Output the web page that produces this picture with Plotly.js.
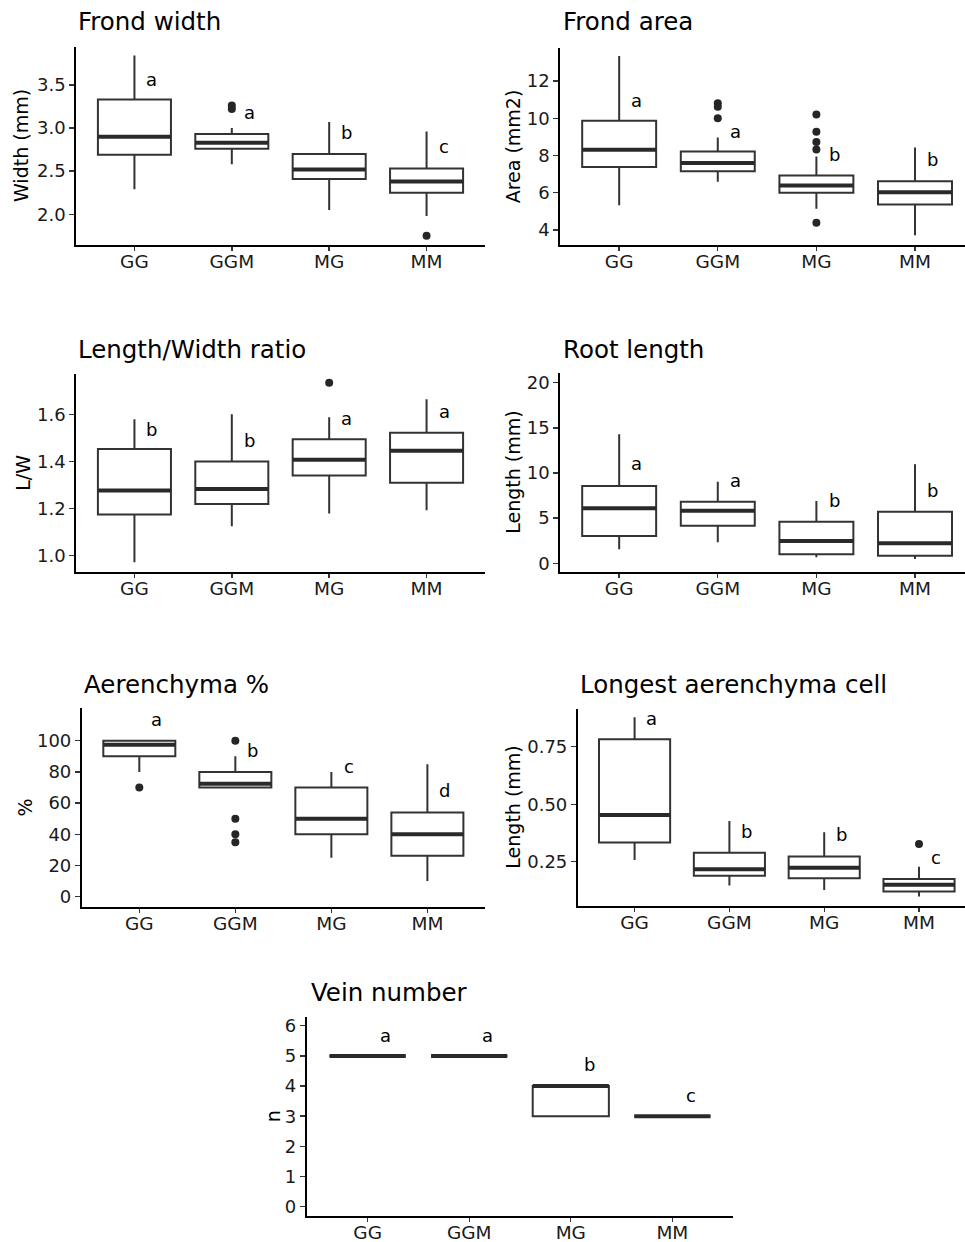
<!DOCTYPE html>
<html>
<head>
<meta charset="utf-8">
<script src="https://cdn.plot.ly/plotly-3.0.1.min.js"></script>
<style>html,body{margin:0;padding:0;background:#fff;}#chart{width:965px;height:1242px;}</style>
</head>
<body>
<div id="chart"></div>
<script>
// ---------- data ----------
const categories = ['GG', 'GGM', 'MG', 'MM'];

// Frond width (mm)
const fwLower = [2.29, 2.58, 2.05, 1.98];
const fwQ1 = [2.69, 2.76, 2.41, 2.25];
const fwMedian = [2.90, 2.83, 2.52, 2.38];
const fwQ3 = [3.33, 2.93, 2.70, 2.53];
const fwUpper = [3.84, 3.00, 3.07, 2.96];
const fwOutCat = ['GGM', 'GGM', 'MM'];
const fwOutVal = [3.26, 3.22, 1.75];
const fwLetters = ['a', 'a', 'b', 'c'];
const fwLetterY = [3.56, 3.18, 2.95, 2.79];

// Frond area (mm2)
const faLower = [5.33, 6.59, 5.14, 3.72];
const faQ1 = [7.38, 7.15, 6.00, 5.37];
const faMedian = [8.31, 7.60, 6.39, 6.03];
const faQ3 = [9.86, 8.22, 6.93, 6.62];
const faUpper = [13.34, 8.96, 7.95, 8.43];
const faOutCat = ['GGM', 'GGM', 'GGM', 'MG', 'MG', 'MG', 'MG', 'MG'];
const faOutVal = [10.80, 10.62, 10.00, 10.20, 9.27, 8.73, 8.32, 4.39];
const faLetters = ['a', 'a', 'b', 'b'];
const faLetterY = [10.98, 9.27, 8.04, 7.80];

// Length/Width ratio
const lwLower = [0.972, 1.125, 1.179, 1.193];
const lwQ1 = [1.175, 1.219, 1.340, 1.310];
const lwMedian = [1.277, 1.283, 1.407, 1.445];
const lwQ3 = [1.453, 1.400, 1.494, 1.522];
const lwUpper = [1.579, 1.600, 1.587, 1.664];
const lwOutCat = ['MG'];
const lwOutVal = [1.734];
const lwLetters = ['b', 'b', 'a', 'a'];
const lwLetterY = [1.536, 1.490, 1.583, 1.614];

// Root length (mm)
const rlLower = [1.55, 2.33, 0.66, 0.48];
const rlQ1 = [3.02, 4.16, 1.00, 0.84];
const rlMedian = [6.09, 5.83, 2.47, 2.21];
const rlQ3 = [8.56, 6.82, 4.61, 5.71];
const rlUpper = [14.29, 9.04, 6.90, 10.96];
const rlOutCat = [];
const rlOutVal = [];
const rlLetters = ['a', 'a', 'b', 'b'];
const rlLetterY = [11.07, 9.15, 7.00, 8.10];

// Aerenchyma %
const aeLower = [80, 70, 25, 10];
const aeQ1 = [90, 70, 40, 26.3];
const aeMedian = [97.5, 72.5, 50, 40];
const aeQ3 = [100, 80, 70, 54];
const aeUpper = [100, 90, 80, 85];
const aeOutCat = ['GG', 'GGM', 'GGM', 'GGM', 'GGM'];
const aeOutVal = [70, 100, 50, 40, 35];
const aeLetters = ['a', 'b', 'c', 'd'];
const aeLetterY = [113.7, 94, 83.8, 67.8];

// Longest aerenchyma cell (mm)
const lcLower = [0.257, 0.146, 0.127, 0.098];
const lcQ1 = [0.333, 0.189, 0.178, 0.120];
const lcMedian = [0.453, 0.217, 0.224, 0.149];
const lcQ3 = [0.783, 0.289, 0.272, 0.175];
const lcUpper = [0.878, 0.427, 0.378, 0.228];
const lcOutCat = ['MM'];
const lcOutVal = [0.327];
const lcLetters = ['a', 'b', 'b', 'c'];
const lcLetterY = [0.871, 0.380, 0.366, 0.269];

// Vein number (n)
const vnLower = [5, 5, 3, 3];
const vnQ1 = [5, 5, 3, 3];
const vnMedian = [5, 5, 4, 3];
const vnQ3 = [5, 5, 4, 3];
const vnUpper = [5, 5, 4, 3];
const vnOutCat = [];
const vnOutVal = [];
const vnLetters = ['a', 'a', 'b', 'c'];
const vnLetterY = [5.67, 5.67, 4.70, 3.70];

// ---------- layout helpers ----------
const W = 965, H = 1242;
const FONT = 'DejaVu Sans, Liberation Sans, Arial, sans-serif';
const BOXCOL = '#333333';
const BOXW = 0.75;
const fx = p => p / W;
const fy = p => 1 - p / H;

const panels = [
  {title: 'Frond width', ytitle: 'Width (mm)', lo: fwLower, q1: fwQ1, med: fwMedian, q3: fwQ3, hi: fwUpper,
   oc: fwOutCat, ov: fwOutVal, let: fwLetters, ly: fwLetterY,
   px: [76, 485], py: [47, 245], xr: [-0.6, 3.6], yr: [1.643, 3.94], tv: [2.0, 2.5, 3.0, 3.5], fmt: '.1f',
   tpos: [76, 22], ytx: 21},
  {title: 'Frond area', ytitle: 'Area (mm2)', lo: faLower, q1: faQ1, med: faMedian, q3: faQ3, hi: faUpper,
   oc: faOutCat, ov: faOutVal, let: faLetters, ly: faLetterY,
   px: [560, 965], py: [47.7, 245], xr: [-0.6, 3.507], yr: [3.19, 13.79], tv: [4, 6, 8, 10, 12], fmt: 'd',
   tpos: [561, 22], ytx: 513},
  {title: 'Length/Width ratio', ytitle: 'L/W', lo: lwLower, q1: lwQ1, med: lwMedian, q3: lwQ3, hi: lwUpper,
   oc: lwOutCat, ov: lwOutVal, let: lwLetters, ly: lwLetterY,
   px: [76, 485], py: [374, 571.7], xr: [-0.6, 3.6], yr: [0.932, 1.771], tv: [1.0, 1.2, 1.4, 1.6], fmt: '.1f',
   tpos: [76, 349], ytx: 23},
  {title: 'Root length', ytitle: 'Length (mm)', lo: rlLower, q1: rlQ1, med: rlMedian, q3: rlQ3, hi: rlUpper,
   oc: rlOutCat, ov: rlOutVal, let: rlLetters, ly: rlLetterY,
   px: [560, 965], py: [373.3, 572.3], xr: [-0.6, 3.507], yr: [-1.0, 21.04], tv: [0, 5, 10, 15, 20], fmt: 'd',
   tpos: [561, 349], ytx: 513},
  {title: 'Aerenchyma %', ytitle: '%', lo: aeLower, q1: aeQ1, med: aeMedian, q3: aeQ3, hi: aeUpper,
   oc: aeOutCat, ov: aeOutVal, let: aeLetters, ly: aeLetterY,
   px: [81.7, 485], py: [708.3, 906.7], xr: [-0.6, 3.6], yr: [-6.4, 120.8], tv: [0, 20, 40, 60, 80, 100], fmt: 'd',
   tpos: [82, 684], ytx: 24},
  {title: 'Longest aerenchyma cell', ytitle: 'Length (mm)', lo: lcLower, q1: lcQ1, med: lcMedian, q3: lcQ3, hi: lcUpper,
   oc: lcOutCat, ov: lcOutVal, let: lcLetters, ly: lcLetterY,
   px: [577.7, 965], py: [709.3, 906], xr: [-0.6, 3.485], yr: [0.057, 0.913], tv: [0.25, 0.5, 0.75], fmt: '.2f',
   tpos: [578, 684], ytx: 513},
  {title: 'Vein number', ytitle: 'n', lo: vnLower, q1: vnQ1, med: vnMedian, q3: vnQ3, hi: vnUpper,
   oc: vnOutCat, ov: vnOutVal, let: vnLetters, ly: vnLetterY,
   px: [306.7, 733.3], py: [1016.7, 1215.7], xr: [-0.6, 3.6], yr: [-0.3, 6.3], tv: [0, 1, 2, 3, 4, 5, 6], fmt: 'd',
   tpos: [309, 992], ytx: 273}
];

const traces = [];
const layout = {
  width: W, height: H,
  margin: {l: 0, r: 0, t: 0, b: 0},
  paper_bgcolor: '#ffffff', plot_bgcolor: '#ffffff',
  showlegend: false,
  font: {family: FONT, color: '#1a1a1a'},
  annotations: []
};

const pos = categories.map((c, i) => i);
const catIndex = c => categories.indexOf(c);

panels.forEach((p, k) => {
  const n = k + 1;
  const xa = 'x' + (n === 1 ? '' : n), ya = 'y' + (n === 1 ? '' : n);
  const xKey = 'xaxis' + (n === 1 ? '' : n), yKey = 'yaxis' + (n === 1 ? '' : n);

  traces.push({
    type: 'box', xaxis: xa, yaxis: ya,
    x: pos, q1: p.q1, median: p.med, q3: p.q3, lowerfence: p.lo, upperfence: p.hi,
    width: BOXW, whiskerwidth: 0, boxpoints: false,
    fillcolor: '#ffffff', line: {color: BOXCOL, width: 2},
    hoverinfo: 'skip'
  });
  // thick median segments
  const mx = [], my = [];
  p.med.forEach((m, i) => { mx.push(i - BOXW / 2, i + BOXW / 2, null); my.push(m, m, null); });
  traces.push({type: 'scatter', mode: 'lines', xaxis: xa, yaxis: ya, x: mx, y: my,
    line: {color: '#2a2a2a', width: 4}, hoverinfo: 'skip'});
  if (p.ov.length) {
    traces.push({type: 'scatter', mode: 'markers', xaxis: xa, yaxis: ya,
      x: p.oc.map(catIndex), y: p.ov,
      marker: {color: '#262626', size: 8}, hoverinfo: 'skip'});
  }

  layout[xKey] = {
    domain: [fx(p.px[0]), fx(p.px[1])], anchor: ya, range: p.xr, fixedrange: true,
    tickmode: 'array', tickvals: pos, ticktext: categories,
    showline: true, linecolor: '#000', linewidth: 1.8, mirror: false,
    ticks: 'outside', ticklen: 4, tickwidth: 1.4, tickcolor: '#333',
    ticklabelstandoff: -5,
    showgrid: false, zeroline: false,
    tickfont: {family: FONT, size: 18.5, color: '#1a1a1a'}
  };
  layout[yKey] = {
    domain: [fy(p.py[1]), fy(p.py[0])], anchor: xa, range: p.yr, fixedrange: true,
    tickmode: 'array', tickvals: p.tv, tickformat: p.fmt,
    showline: true, linecolor: '#000', linewidth: 1.8,
    ticks: 'outside', ticklen: 5, tickwidth: 1.4, tickcolor: '#333',
    showgrid: false, zeroline: false,
    tickfont: {family: FONT, size: 18, color: '#1a1a1a'}
  };

  // plot title
  layout.annotations.push({xref: 'paper', yref: 'paper', x: fx(p.tpos[0]), y: fy(p.tpos[1]),
    xanchor: 'left', yanchor: 'middle', text: p.title, showarrow: false,
    font: {family: FONT, size: 24.5, color: '#000'}});
  // y axis title
  layout.annotations.push({xref: 'paper', yref: 'paper', x: fx(p.ytx), y: fy((p.py[0] + p.py[1]) / 2),
    xanchor: 'center', yanchor: 'middle', textangle: -90, text: p.ytitle, showarrow: false,
    font: {family: FONT, size: 19, color: '#000'}});
  // significance letters
  p.let.forEach((L, i) => {
    layout.annotations.push({xref: xa, yref: ya, x: i + 0.18, y: p.ly[i], text: L, showarrow: false,
      xanchor: 'center', yanchor: 'middle', font: {family: FONT, size: 18, color: '#000'}});
  });
});

Plotly.newPlot('chart', traces, layout, {staticPlot: true, displayModeBar: false});
</script>
</body>
</html>
